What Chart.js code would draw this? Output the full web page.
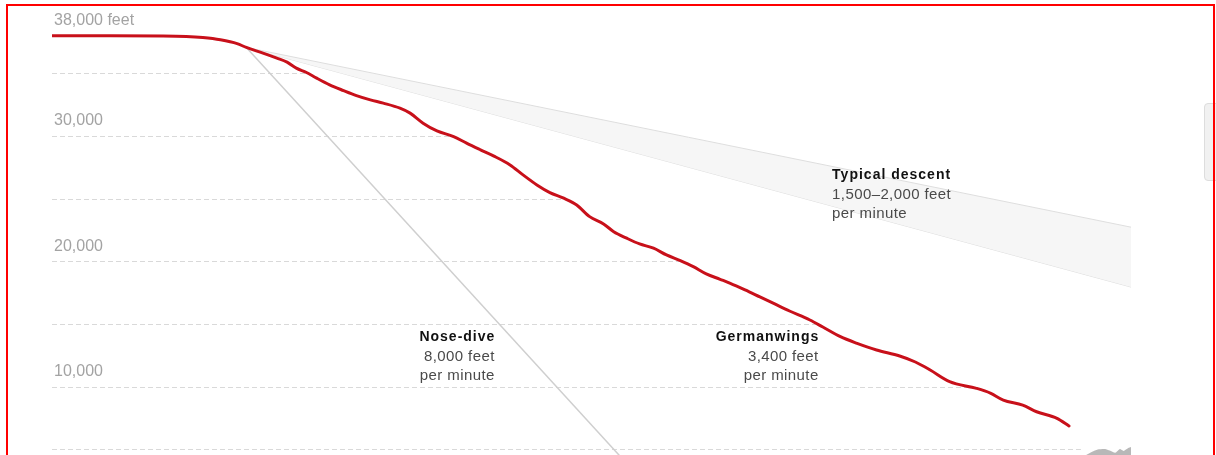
<!DOCTYPE html>
<html>
<head>
<meta charset="utf-8">
<title>Germanwings descent</title>
<script src="https://cdn.jsdelivr.net/npm/chart.js@4.4.1/dist/chart.umd.min.js"></script>
<style>
  html, body { margin: 0; padding: 0; background: #fff; overflow: hidden; }
  #frame { position: absolute; left: 6px; top: 4px; width: 1205px; height: 600px; border: 2px solid #ff0000; pointer-events: none; z-index: 2; }
  #tab { position: absolute; left: 1204px; top: 103px; width: 14px; height: 76px; background: #f1f1f1; border: 1px solid #dddddd; border-radius: 4px; z-index: 0; }
  #chartCanvas { position: absolute; left: 0; top: 0; z-index: 1; }
</style>
</head>
<body>
<div id="tab"></div>
<canvas id="chartCanvas" width="1216" height="524"></canvas>
<div id="frame"></div>
<script>
// minutes since the start of the track, altitude in feet
const flightMinutes = [0, 0.63, 1.20, 1.45, 1.63, 1.82, 2.00, 2.10, 2.28, 2.43, 2.54, 2.64, 2.75, 2.86, 3.00,
  3.15, 3.29, 3.44, 3.58, 3.76, 3.87, 4.01, 4.16, 4.34, 4.48, 4.63, 4.77, 4.95, 5.09, 5.24, 5.38,
  5.53, 5.67, 5.81, 5.96, 6.07, 6.21, 6.35, 6.50, 6.64, 6.79, 6.93, 7.07, 7.22, 7.33, 7.49, 7.65,
  7.81, 7.97, 8.19, 8.33, 8.52, 8.70, 8.91, 9.16, 9.33, 9.49, 9.70, 9.99, 10.14, 10.28, 10.49,
  10.64, 10.86, 10.99];
const flightAltitude = [38000, 38000, 37990, 37950, 37860, 37680, 37380, 37070, 36620, 36220, 35900, 35420,
  35070, 34620, 34090, 33630, 33230, 32890, 32630, 32230, 31830, 31030, 30410, 29960, 29430, 28900,
  28420, 27700, 26900, 26100, 25490, 25040, 24500, 23570, 22990, 22370, 21850, 21390, 21050, 20510,
  20060, 19580, 19000, 18570, 18250, 17720, 17160, 16600, 16040, 15320, 14760, 13990, 13460, 12930,
  12450, 11970, 11330, 10400, 9870, 9490, 8930, 8530, 8000, 7470, 6860];

// reference descents from the point where the plane left cruising altitude
const noseDiveMinutes = [2.10, 6.69];
const noseDiveAltitude = [37070, 0];
const typicalMinutes = [2.10, 11.66];
const typicalSlowAltitude = [37070, 22730];   // 1,500 feet per minute
const typicalFastAltitude = [37070, 17950];   // 2,000 feet per minute

const groundMinutes = [11.14, 11.19, 11.24, 11.30, 11.38, 11.43, 11.49, 11.54, 11.58, 11.63, 11.66];
const groundAltitude = [4400, 4600, 4800, 4990, 5030, 4900, 4720, 5020, 4870, 5100, 5180];

const yTickValues = [10000, 20000, 30000, 38000];
const yTickLabels = ["10,000", "20,000", "30,000", "38,000 feet"];
const gridValues = [5000, 10000, 15000, 20000, 25000, 30000, 35000];

const noteLines = [
  ["Typical descent", "1,500\u20132,000 feet", "per minute"],
  ["Nose-dive", "8,000 feet", "per minute"],
  ["Germanwings", "3,400 feet", "per minute"]
];
const noteAnchors = [
  { x: 8.43, y: 26900, align: "left" },
  { x: 4.78, y: 13970, align: "right" },
  { x: 8.28, y: 13970, align: "right" }
];

const toPoints = (xs, ys) => xs.map((x, i) => ({ x, y: ys[i] }));

// dashed grid that stops where the flight path (or the ground) crosses it
const partialGrid = {
    id: "partialGrid",
    beforeDatasetsDraw(chart) {
        const { ctx, chartArea, scales } = chart;
        const path = chart.getDatasetMeta(0).data;
        const ground = chart.getDatasetMeta(4).data;
        ctx.save();
        ctx.strokeStyle = "#d9d9d9";
        ctx.lineWidth = 1;
        ctx.setLineDash([5, 3]);
        gridValues.forEach(v => {
            const py = Math.round(scales.y.getPixelForValue(v)) + 0.5;
            let end = ground.length ? ground[0].x : chartArea.right;
            for (let i = 0; i < path.length - 1; i++) {
                const a = path[i], b = path[i + 1];
                if (a.y <= py && b.y >= py) {
                    end = a.x + (py - a.y) / ((b.y - a.y) || 1) * (b.x - a.x);
                    break;
                }
            }
            ctx.beginPath();
            ctx.moveTo(chartArea.left, py);
            ctx.lineTo(end - 2, py);
            ctx.stroke();
        });
        ctx.restore();
    }
};

const notes = {
    id: "notes",
    afterDatasetsDraw(chart) {
        const { ctx, scales } = chart;
        noteAnchors.forEach((a, n) => {
            const x = scales.x.getPixelForValue(a.x);
            const y = scales.y.getPixelForValue(a.y);
            ctx.save();
            ctx.textAlign = a.align;
            ctx.textBaseline = "middle";
            noteLines[n].forEach((line, i) => {
                const spacing = i === 0 ? 1 : 0.4;
                ctx.font = i === 0 ? 'bold 14px "Liberation Sans"' : '15px "Liberation Sans"';
                ctx.letterSpacing = spacing + "px";
                ctx.fillStyle = i === 0 ? "#111" : "#4a4a4a";
                const dx = a.align === "right" ? spacing : 0;
                ctx.fillText(line, x + dx, y + i * 19.5);
            });
            ctx.restore();
        });
    }
};

const ctx = document.getElementById("chartCanvas").getContext("2d");

new Chart(ctx, {
    type: "line",
    data: {
        datasets: [
            {
                label: "Germanwings",
                data: toPoints(flightMinutes, flightAltitude),
                borderColor: "#c8101a",
                borderWidth: 3,
                borderCapStyle: "round",
                borderJoinStyle: "round",
                cubicInterpolationMode: "monotone",
                fill: false,
                order: 0
            },
            {
                label: "Nose-dive",
                data: toPoints(noseDiveMinutes, noseDiveAltitude),
                borderColor: "#cfcfcf",
                borderWidth: 1.5,
                fill: false,
                order: 2
            },
            {
                label: "Typical slow",
                data: toPoints(typicalMinutes, typicalSlowAltitude),
                borderColor: "#dedede",
                borderWidth: 1,
                backgroundColor: "#f6f6f6",
                fill: "+1",
                order: 3
            },
            {
                label: "Typical fast",
                data: toPoints(typicalMinutes, typicalFastAltitude),
                borderColor: "#dedede",
                borderWidth: 1,
                fill: false,
                order: 3
            },
            {
                label: "Ground",
                data: toPoints(groundMinutes, groundAltitude),
                borderWidth: 0,
                backgroundColor: "#b8b8b8",
                fill: "origin",
                tension: 0.2,
                order: 1
            }
        ]
    },
    options: {
        responsive: false,
        animation: false,
        layout: { padding: { left: 48, right: 85, top: 12, bottom: 12 } },
        elements: { point: { radius: 0, hoverRadius: 0 } },
        plugins: {
            legend: { display: false },
            tooltip: { enabled: false }
        },
        scales: {
            x: { type: "linear", min: 0, max: 11.66, display: false },
            y: {
                min: 0,
                max: 39900,
                position: "left",
                afterBuildTicks: axis => {
                    axis.ticks = yTickValues.map(v => ({ value: v }));
                },
                grid: { display: false, drawTicks: false },
                border: { display: false },
                ticks: {
                    mirror: true,
                    padding: 2,
                    labelOffset: -15,
                    color: "#a3a3a3",
                    font: { family: "Liberation Sans", size: 16 },
                    callback: v => yTickLabels[yTickValues.indexOf(v)]
                }
            }
        }
    },
    plugins: [partialGrid, notes]
});
</script>
</body>
</html>
